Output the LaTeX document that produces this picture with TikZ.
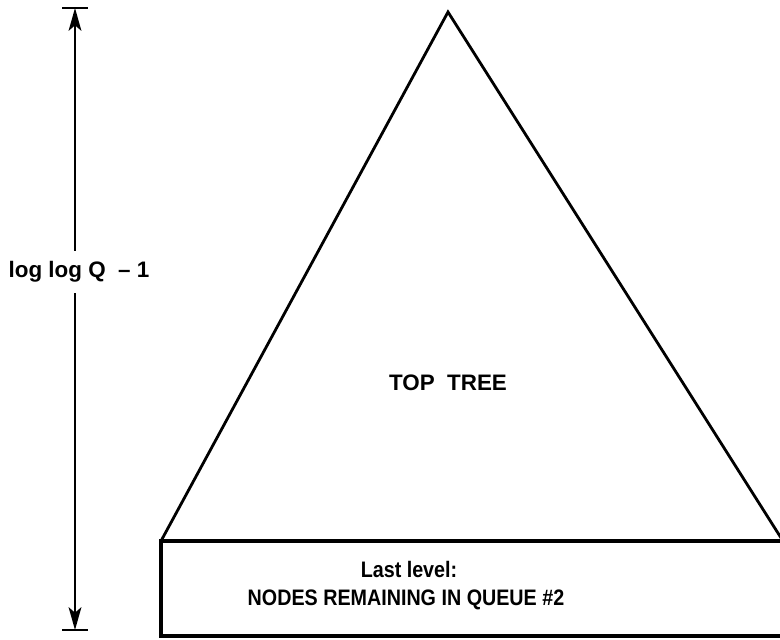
\documentclass[tikz,border=0pt]{standalone}
\usepackage{fontspec}
\setmainfont{Liberation Sans}
\newfontfamily\narrowfont[FakeStretch=0.88]{Liberation Sans}
\usetikzlibrary{arrows.meta}
\begin{document}
\begin{tikzpicture}[x=0.75pt,y=-0.75pt,
  lbl/.style={font=\fontsize{16.8pt}{19pt}\selectfont\bfseries, inner sep=0pt},
  nlbl/.style={font=\fontsize{16.8pt}{19pt}\selectfont\narrowfont\bfseries, inner sep=0pt},
  edge/.style={line width=2.1pt, line join=miter},
  dim/.style={line width=2.1pt, -{Stealth[length=17pt,width=9.5pt,inset=4pt]}},
  bar/.style={line width=2.1pt}]
\useasboundingbox (0,0) rectangle (780,639);
\clip (0,0) rectangle (780,639);
\fill[white] (0,0) rectangle (780,639);
% triangle
\coordinate (apex) at (448,12);
\coordinate (bl) at (161,541);
\coordinate (br) at (783,541);
\draw[edge] (bl) -- (apex) -- (br);
% box
\draw[line width=2.4pt] (161,541) rectangle (790,636);
\node[lbl] (top) at (448,383) {TOP\ \ TREE};
\node[nlbl] (last) at (409,569) {Last level:};
\node[nlbl] (nodes) at (406,600) {NODES REMAINING IN QUEUE \#2};
% dimension
\coordinate (t) at (75,8);
\coordinate (b) at (75,630);
\draw[bar] (62,8) -- (88,8);
\draw[bar] (62,630) -- (88,630);
\node[lbl, inner ysep=8pt] (dlab) at (79,272) {log log Q\ \ -- 1};
\draw[dim] (dlab.north -| t) -- (t);
\draw[dim] (dlab.south -| b) -- (b);
\end{tikzpicture}
\end{document}
